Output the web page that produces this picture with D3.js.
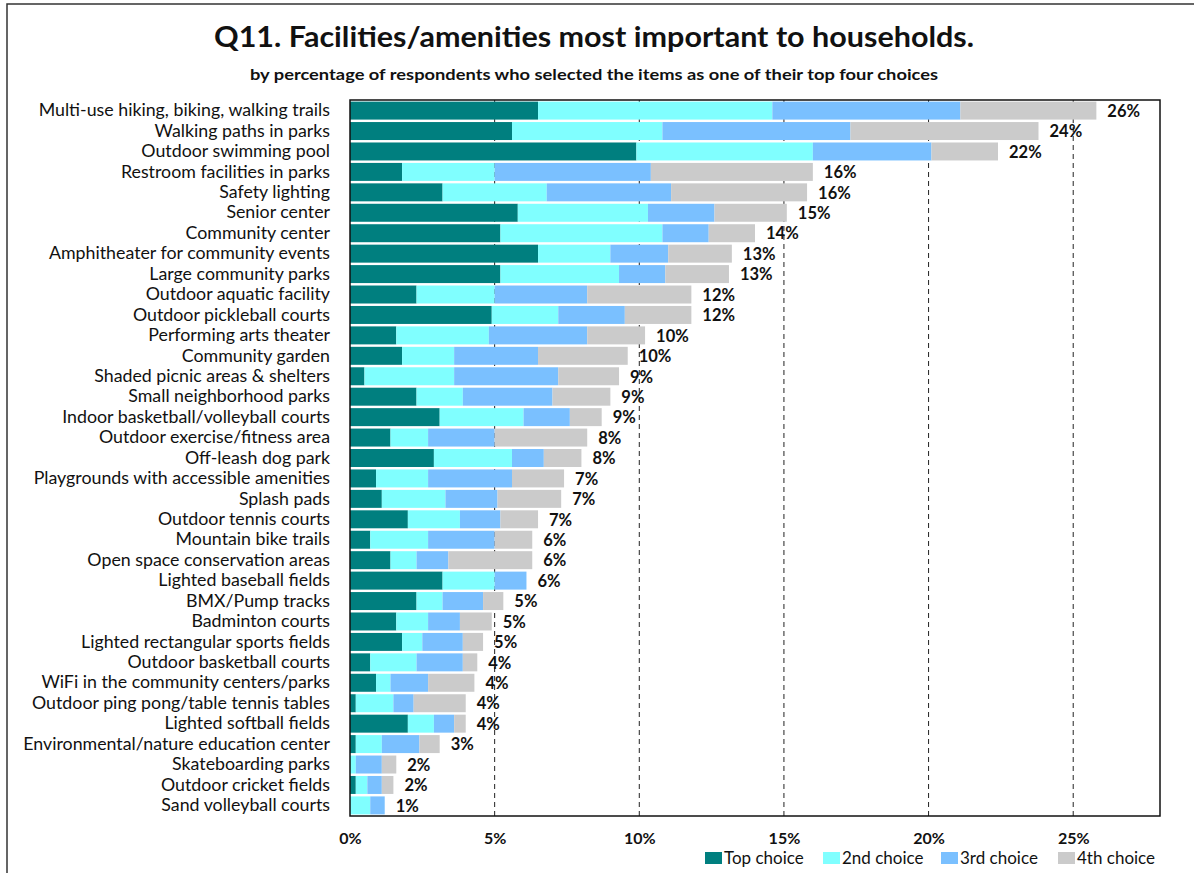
<!DOCTYPE html>
<html>
<head>
<meta charset="utf-8">
<script src="https://cdn.jsdelivr.net/npm/d3@7"></script>
<style>
  body { margin: 0; background: #fff; }
  svg text { font-family: Lato, "Open Sans", sans-serif; fill: #111; }
</style>
</head>
<body>
<div id="chart"></div>
<script>
// data (percent of respondents)
var categories = [
  "Multi-use hiking, biking, walking trails", "Walking paths in parks", "Outdoor swimming pool",
  "Restroom facilities in parks", "Safety lighting", "Senior center", "Community center",
  "Amphitheater for community events", "Large community parks", "Outdoor aquatic facility",
  "Outdoor pickleball courts", "Performing arts theater", "Community garden",
  "Shaded picnic areas & shelters", "Small neighborhood parks", "Indoor basketball/volleyball courts",
  "Outdoor exercise/fitness area", "Off-leash dog park", "Playgrounds with accessible amenities",
  "Splash pads", "Outdoor tennis courts", "Mountain bike trails", "Open space conservation areas",
  "Lighted baseball fields", "BMX/Pump tracks", "Badminton courts", "Lighted rectangular sports fields",
  "Outdoor basketball courts", "WiFi in the community centers/parks", "Outdoor ping pong/table tennis tables",
  "Lighted softball fields", "Environmental/nature education center", "Skateboarding parks",
  "Outdoor cricket fields", "Sand volleyball courts"
];
var topChoice = [6.5, 5.6, 9.9, 1.8, 3.2, 5.8, 5.2, 6.5, 5.2, 2.3, 4.9, 1.6, 1.8, 0.5, 2.3, 3.1, 1.4, 2.9, 0.9,
  1.1, 2.0, 0.7, 1.4, 3.2, 2.3, 1.6, 1.8, 0.7, 0.9, 0.2, 2.0, 0.2, 0.0, 0.2, 0.0];
var secondChoice = [8.1, 5.2, 6.1, 3.2, 3.6, 4.5, 5.6, 2.5, 4.1, 2.7, 2.3, 3.2, 1.8, 3.1, 1.6, 2.9, 1.3, 2.7, 1.8,
  2.2, 1.8, 2.0, 0.9, 1.8, 0.9, 1.1, 0.7, 1.6, 0.5, 1.3, 0.9, 0.9, 0.2, 0.4, 0.7];
var thirdChoice = [6.5, 6.5, 4.1, 5.4, 4.3, 2.3, 1.6, 2.0, 1.6, 3.2, 2.3, 3.4, 2.9, 3.6, 3.1, 1.6, 2.3, 1.1, 2.9,
  1.8, 1.4, 2.3, 1.1, 1.1, 1.4, 1.1, 1.4, 1.6, 1.3, 0.7, 0.7, 1.3, 0.9, 0.5, 0.5];
var fourthChoice = [4.7, 6.5, 2.3, 5.6, 4.7, 2.5, 1.6, 2.2, 2.2, 3.6, 2.3, 2.0, 3.1, 2.1, 2.0, 1.1, 3.2, 1.3, 1.8,
  2.2, 1.3, 1.3, 2.9, 0.0, 0.7, 1.1, 0.7, 0.5, 1.6, 1.8, 0.4, 0.7, 0.5, 0.4, 0.0];
var totalLabels = ["26%", "24%", "22%", "16%", "16%", "15%", "14%", "13%", "13%", "12%", "12%", "10%", "10%",
  "9%", "9%", "9%", "8%", "8%", "7%", "7%", "7%", "6%", "6%", "6%", "5%", "5%", "5%", "4%", "4%", "4%", "4%",
  "3%", "2%", "2%", "1%"];
var seriesNames = ["Top choice", "2nd choice", "3rd choice", "4th choice"];
var seriesColors = ["#007f7f", "#80ffff", "#7ac0ff", "#cbcbcb"];
var xTicks = [0, 5, 10, 15, 20, 25];

var width = 1194, height = 873;
var plot = { left: 350, right: 1160, top: 100, bottom: 816 };

var svg = d3.select("#chart").append("svg")
  .attr("width", width)
  .attr("height", height);

// outer frame of the picture
svg.append("rect")
  .attr("x", 7).attr("y", 4)
  .attr("width", width + 10).attr("height", height + 10)
  .attr("fill", "none").attr("stroke", "#333").attr("stroke-width", 1.5);

svg.append("text")
  .attr("x", 594).attr("y", 47)
  .attr("text-anchor", "middle")
  .attr("textLength", 760).attr("lengthAdjust", "spacingAndGlyphs")
  .style("font-size", "29px").style("font-weight", "bold")
  .text("Q11. Facilities/amenities most important to households.");

svg.append("text")
  .attr("x", 594).attr("y", 80)
  .attr("text-anchor", "middle")
  .attr("textLength", 688).attr("lengthAdjust", "spacingAndGlyphs")
  .style("font-size", "16px").style("font-weight", "bold")
  .text("by percentage of respondents who selected the items as one of their top four choices");

var x = d3.scaleLinear().domain([0, 28]).range([plot.left, plot.right]);
var y = d3.scaleBand().domain(categories).range([101, 815]).paddingInner(0.12).paddingOuter(0.03);

// dashed gridlines
svg.append("g")
  .selectAll("line")
  .data(xTicks.filter(function(d) { return d > 0; }))
  .enter().append("line")
  .attr("x1", function(d) { return x(d); })
  .attr("x2", function(d) { return x(d); })
  .attr("y1", plot.top).attr("y2", plot.bottom)
  .attr("stroke", "#222").attr("stroke-width", 1)
  .attr("stroke-dasharray", "5,4");

// stack the four choices
var rows = categories.map(function(c, i) {
  return { cat: c, s0: topChoice[i], s1: secondChoice[i], s2: thirdChoice[i], s3: fourthChoice[i] };
});
var stack = d3.stack().keys(["s0", "s1", "s2", "s3"])(rows);

svg.append("g")
  .selectAll("g")
  .data(stack)
  .enter().append("g")
  .attr("fill", function(d, i) { return seriesColors[i]; })
  .selectAll("rect")
  .data(function(d) { return d; })
  .enter().append("rect")
  .attr("x", function(d) { return x(d[0]); })
  .attr("width", function(d) { return Math.max(0, x(d[1]) - x(d[0])); })
  .attr("y", function(d) { return y(d.data.cat); })
  .attr("height", y.bandwidth());

// total labels
svg.append("g")
  .selectAll("text")
  .data(rows)
  .enter().append("text")
  .attr("x", function(d) { return x(d.s0 + d.s1 + d.s2 + d.s3) + 11; })
  .attr("y", function(d) { return y(d.cat) + y.bandwidth() / 2; })
  .attr("dy", "0.38em")
  .style("font-size", "16.5px").style("font-weight", "bold")
  .text(function(d, i) { return totalLabels[i]; });

// category labels
var yAxis = svg.append("g")
  .attr("transform", "translate(" + plot.left + ",0)")
  .call(d3.axisLeft(y).tickSize(0).tickPadding(20));
yAxis.select(".domain").remove();
yAxis.selectAll("text")
  .style("font-size", "17.8px")
  .style("font-family", "Lato, 'Open Sans', sans-serif")
  .attr("fill", "#111");

// x axis labels
var xAxis = svg.append("g")
  .attr("transform", "translate(0," + plot.bottom + ")")
  .call(d3.axisBottom(x).tickValues(xTicks).tickSize(0).tickPadding(17)
    .tickFormat(function(d) { return d + "%"; }));
xAxis.select(".domain").remove();
xAxis.selectAll("text")
  .style("font-size", "16px").style("font-weight", "bold")
  .style("font-family", "Lato, 'Open Sans', sans-serif")
  .attr("fill", "#111");

// plot frame
svg.append("rect")
  .attr("x", plot.left).attr("y", plot.top)
  .attr("width", plot.right - plot.left).attr("height", plot.bottom - plot.top)
  .attr("fill", "none").attr("stroke", "#111").attr("stroke-width", 1.5);

// legend, right aligned to the plot frame
var legendX = [705, 823, 941, 1058];
var legend = svg.append("g")
  .selectAll("g")
  .data(seriesNames)
  .enter().append("g")
  .attr("transform", function(d, i) { return "translate(" + legendX[i] + ",852)"; });
legend.append("rect")
  .attr("width", 17).attr("height", 12)
  .attr("fill", function(d, i) { return seriesColors[i]; });
legend.append("text")
  .attr("x", 19).attr("y", 12)
  .style("font-size", "17px")
  .text(function(d) { return d; });
</script>
</body>
</html>
